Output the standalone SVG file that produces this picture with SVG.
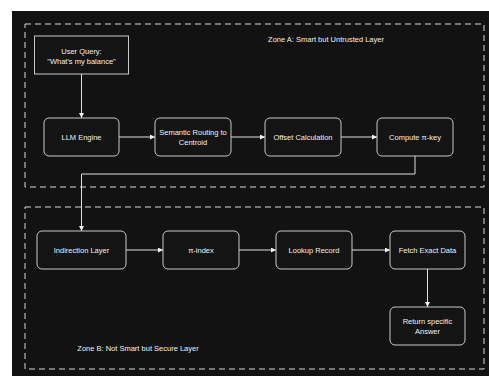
<svg xmlns="http://www.w3.org/2000/svg" width="489" height="376" viewBox="0 0 489 376">
<defs>
<style>
.zone{fill:none;stroke:#d8d8d8;stroke-width:1;stroke-dasharray:6 4}
.box{fill:#141414;stroke:#c8c8c8;stroke-width:1}
.t{font-family:"Liberation Sans",Arial,sans-serif;font-size:7.5px;fill:#f0f0f0;text-anchor:middle;dominant-baseline:central}
.c{fill:none;stroke:#e0e0e0;stroke-width:1}
</style>
<marker id="ah" viewBox="0 0 6 6" refX="6" refY="3" markerWidth="5" markerHeight="5" orient="auto" markerUnits="userSpaceOnUse">
<path d="M0,0 L6,3 L0,6 Z" fill="#f0f0f0"/>
</marker>
</defs>
<rect x="0" y="0" width="489" height="376" fill="#ffffff"/>
<rect x="12" y="11" width="477" height="365" fill="#121212"/>
<g id="zoneA">
<rect class="zone" x="25" y="24" width="459" height="163"/>
<text class="t" x="326" y="39">Zone A: Smart but Untrusted Layer</text>
</g>
<g id="zoneB">
<rect class="zone" x="25" y="207" width="459" height="162"/>
<text class="t" x="138" y="348">Zone B: Not Smart but Secure Layer</text>
</g>
<g id="connectors">
<path class="c" d="M81.5,74 V118" marker-end="url(#ah)"/>
<path class="c" d="M119,137 H155" marker-end="url(#ah)"/>
<path class="c" d="M231,137 H265" marker-end="url(#ah)"/>
<path class="c" d="M341,137 H377" marker-end="url(#ah)"/>
<path class="c" d="M415,156 V174 H81.5 V231" marker-end="url(#ah)"/>
<path class="c" d="M126,250 H163" marker-end="url(#ah)"/>
<path class="c" d="M239,250 H276" marker-end="url(#ah)"/>
<path class="c" d="M352,250 H390" marker-end="url(#ah)"/>
<path class="c" d="M427.5,269 V307" marker-end="url(#ah)"/>
</g>
<g id="userQuery">
<rect class="box" x="34.5" y="36" width="94" height="38"/>
<text class="t" x="81.5" y="51">User Query:</text>
<text class="t" x="81.5" y="61">"What's my balance"</text>
</g>
<g id="llmEngine">
<rect class="box" x="44" y="118" width="75" height="38" rx="5"/>
<text class="t" x="81.5" y="137">LLM Engine</text>
</g>
<g id="semanticRouting">
<rect class="box" x="155" y="118" width="76" height="38" rx="5"/>
<text class="t" x="193" y="132">Semantic Routing to</text>
<text class="t" x="193" y="142">Centroid</text>
</g>
<g id="offsetCalc">
<rect class="box" x="265" y="118" width="76" height="38" rx="5"/>
<text class="t" x="303" y="137">Offset Calculation</text>
</g>
<g id="computeKey">
<rect class="box" x="377" y="118" width="76" height="38" rx="5"/>
<text class="t" x="415" y="137">Compute π-key</text>
</g>
<g id="indirection">
<rect class="box" x="37" y="231" width="89" height="38" rx="5"/>
<text class="t" x="81.5" y="250">Indirection Layer</text>
</g>
<g id="piIndex">
<rect class="box" x="163" y="231" width="76" height="38" rx="5"/>
<text class="t" x="201" y="250">π-index</text>
</g>
<g id="lookup">
<rect class="box" x="276" y="231" width="76" height="38" rx="5"/>
<text class="t" x="314" y="250">Lookup Record</text>
</g>
<g id="fetch">
<rect class="box" x="390" y="231" width="75" height="38" rx="5"/>
<text class="t" x="427.5" y="250">Fetch Exact Data</text>
</g>
<g id="returnAnswer">
<rect class="box" x="390" y="307" width="75" height="38" rx="5"/>
<text class="t" x="427.5" y="321">Return specific</text>
<text class="t" x="427.5" y="331">Answer</text>
</g>
</svg>
